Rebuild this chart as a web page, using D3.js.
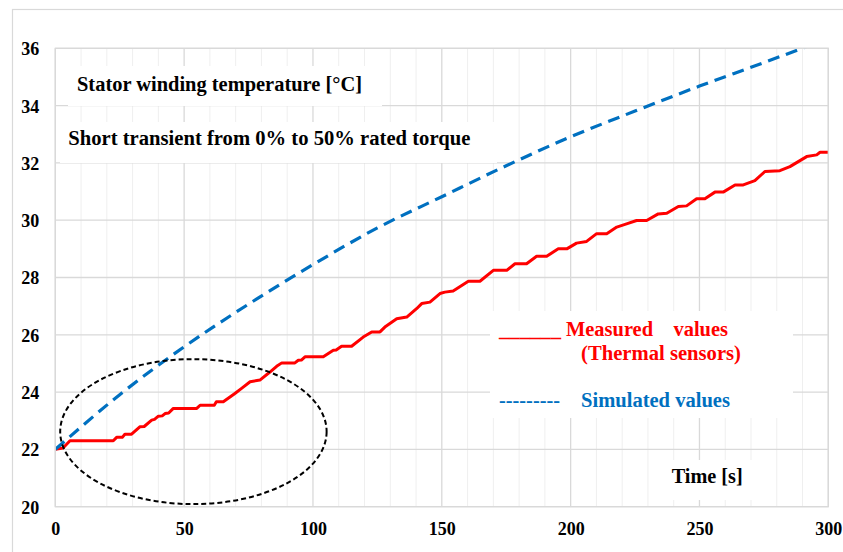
<!DOCTYPE html>
<html>
<head>
<meta charset="utf-8">
<script src="https://cdn.jsdelivr.net/npm/d3@7"></script>
<style>
  body { margin: 0; background: #fff; }
  svg { display: block; }
  text { font-family: "Liberation Serif", "Times New Roman", serif; font-weight: bold; }
</style>
</head>
<body>
<div class="chart"></div>
<script>
// simulated stator winding temperature (blue dashed)
const simTime = [0, 25, 50, 75, 100, 125, 150, 175, 200, 225, 250, 275, 300];
const simTemp = [22.0, 23.91, 25.58, 27.07, 28.45, 29.73, 30.82, 31.9, 32.91, 33.81, 34.68, 35.5, 36.35];

// measured values from thermal sensors (red staircase)
const measTime = [0, 3, 5.7, 22.5, 23.8, 26, 27, 29.6, 32.8, 34.5, 37.4, 38.5, 40, 41.5, 42.6, 44, 45.8, 54.9,
  56.2, 61.7, 62.5, 65.2, 69.7, 72.3, 75.6, 79.4, 83.3, 85.9, 87.9, 93, 94.3, 95.5, 96.9, 104, 107.9, 109,
  111.1, 115, 119.5, 122.8, 126, 127.9, 132.5, 136.4, 140.2, 142.2, 145.4, 149.3, 151.2, 154.4, 160.3, 164.8,
  170, 175.2, 178.4, 182.9, 186.8, 190.7, 195.2, 198.5, 202.3, 206.2, 210.1, 214, 217.9, 221.7, 225.6, 229.5,
  234, 237.3, 241.8, 245, 248.9, 252.1, 256, 259.2, 263.8, 267, 271.5, 275.4, 281.2, 285.1, 291.6, 295.5,
  296.8, 300];
const measTemp = [22.0, 22.05, 22.3, 22.3, 22.42, 22.42, 22.53, 22.53, 22.79, 22.8, 23.02, 23.05, 23.16, 23.17,
  23.25, 23.27, 23.43, 23.43, 23.54, 23.54, 23.66, 23.66, 23.95, 24.13, 24.36, 24.42, 24.7, 24.9, 25.02, 25.02,
  25.11, 25.12, 25.23, 25.23, 25.46, 25.47, 25.6, 25.6, 25.92, 26.1, 26.1, 26.27, 26.56, 26.62, 26.91, 27.09,
  27.14, 27.44, 27.49, 27.53, 27.87, 27.87, 28.25, 28.25, 28.48, 28.48, 28.74, 28.74, 29.0, 29.0, 29.2, 29.26,
  29.53, 29.53, 29.76, 29.87, 29.99, 29.99, 30.22, 30.24, 30.48, 30.5, 30.75, 30.75, 30.98, 30.98, 31.23, 31.23,
  31.38, 31.7, 31.73, 31.87, 32.22, 32.28, 32.37, 32.37];

const xTicks = [0, 50, 100, 150, 200, 250, 300];
const xMinor = [10, 20, 30, 40, 60, 70, 80, 90, 110, 120, 130, 140, 160, 170, 180, 190, 210, 220, 230, 240, 260, 270, 280, 290];
const yTicks = [20, 22, 24, 26, 28, 30, 32, 34, 36];

// dashed ellipse marking the start-up region (centre and radii in data units)
const zone = { t: 53.6, temp: 22.62, rt: 51.7, rtemp: 2.53 };

const width = 843, height = 552;
const plot = { left: 55.3, right: 828.3, top: 48.3, bottom: 506.7 };

const svg = d3.select(".chart").append("svg").attr("width", width).attr("height", height);

const x = d3.scaleLinear().domain([0, 300]).range([plot.left, plot.right]);
const y = d3.scaleLinear().domain([20, 36]).range([plot.bottom, plot.top]);

// outer chart frame
svg.append("rect").attr("x", 12.5).attr("y", 9.5).attr("width", 860).attr("height", 560)
  .attr("fill", "none").attr("stroke", "#d9d9d9").attr("stroke-width", 1.2);

// gridlines
svg.append("g").selectAll("line").data(xMinor).join("line")
  .attr("x1", d => x(d)).attr("x2", d => x(d)).attr("y1", plot.top).attr("y2", plot.bottom)
  .attr("stroke", "#efefef").attr("stroke-width", 1);
svg.append("g").selectAll("line").data(xTicks).join("line")
  .attr("x1", d => x(d)).attr("x2", d => x(d)).attr("y1", plot.top).attr("y2", plot.bottom)
  .attr("stroke", "#d9d9d9").attr("stroke-width", 1.3);
svg.append("g").selectAll("line").data(yTicks).join("line")
  .attr("x1", plot.left).attr("x2", plot.right).attr("y1", d => y(d)).attr("y2", d => y(d))
  .attr("stroke", "#d9d9d9").attr("stroke-width", 1.3);

// white text boxes that sit over the grid
const boxes = [[68, 66, 314, 40], [60, 122, 437, 41], [490, 311, 303, 107], [662, 460, 92, 40]];
svg.append("g").selectAll("rect").data(boxes).join("rect")
  .attr("x", d => d[0]).attr("y", d => d[1]).attr("width", d => d[2]).attr("height", d => d[3])
  .attr("fill", "#fff");

// axes (labels only)
const gx = svg.append("g").attr("transform", `translate(0,${plot.bottom})`)
  .call(d3.axisBottom(x).tickValues(xTicks).tickSize(0).tickPadding(0));
gx.select(".domain").remove();
gx.selectAll("text").attr("y", 28.3).attr("dy", null)
  .style("font-size", "18px").attr("fill", "#000");

const gy = svg.append("g").attr("transform", `translate(${plot.left},0)`)
  .call(d3.axisLeft(y).tickValues(yTicks).tickSize(0).tickPadding(0));
gy.select(".domain").remove();
gy.selectAll("text").attr("x", -16).attr("dy", "6.4px")
  .style("font-size", "18px").attr("fill", "#000");

svg.selectAll(".tick text").style("font-family", "'Liberation Serif', 'Times New Roman', serif").style("font-weight", "bold");

// clip for series
svg.append("clipPath").attr("id", "clip").append("rect")
  .attr("x", plot.left).attr("y", plot.top)
  .attr("width", plot.right - plot.left).attr("height", plot.bottom - plot.top);

const measured = measTime.map((t, i) => [t, measTemp[i]]);
const simulated = simTime.map((t, i) => [t, simTemp[i]]);

svg.append("path").datum(measured)
  .attr("clip-path", "url(#clip)")
  .attr("fill", "none").attr("stroke", "#ff0000").attr("stroke-width", 3)
  .attr("stroke-linejoin", "round")
  .attr("d", d3.line().x(d => x(d[0])).y(d => y(d[1])));

svg.append("path").datum(simulated)
  .attr("clip-path", "url(#clip)")
  .attr("fill", "none").attr("stroke", "#0070c0").attr("stroke-width", 3.2)
  .attr("stroke-dasharray", "12,7")
  .attr("d", d3.line().x(d => x(d[0])).y(d => y(d[1])).curve(d3.curveMonotoneX));

// plot area border
svg.append("rect").attr("x", plot.left).attr("y", plot.top)
  .attr("width", plot.right - plot.left).attr("height", plot.bottom - plot.top)
  .attr("fill", "none").attr("stroke", "#d9d9d9").attr("stroke-width", 1.3);

svg.append("ellipse")
  .attr("cx", x(zone.t)).attr("cy", y(zone.temp))
  .attr("rx", x(zone.rt) - x(0)).attr("ry", y(20) - y(20 + zone.rtemp))
  .attr("fill", "none").attr("stroke", "#000").attr("stroke-width", 2)
  .attr("stroke-dasharray", "5,3");

// annotations
function label(txt, px, py, color, w) {
  const t = svg.append("text").attr("x", px).attr("y", py).attr("fill", color)
    .style("font-size", "20.5px").style("white-space", "pre").text(txt);
  if (w) t.attr("textLength", w).attr("lengthAdjust", "spacingAndGlyphs");
  return t;
}
label("Stator winding temperature [°C]", 77, 90.7, "#000", 285);
label("Short transient from 0% to 50% rated torque", 68.3, 145, "#000", 402);
label("______", 499, 335.7, "#ff0000", 62);
label("Measured    values", 566, 335.7, "#ff0000", 162);
label("(Thermal sensors)", 581, 360, "#ff0000", 160);
label("---------", 499, 406.7, "#0070c0", 61);
label("Simulated values", 581, 406.7, "#0070c0", 149);
label("Time [s]", 671.7, 483.3, "#000", 71);
</script>
</body>
</html>
